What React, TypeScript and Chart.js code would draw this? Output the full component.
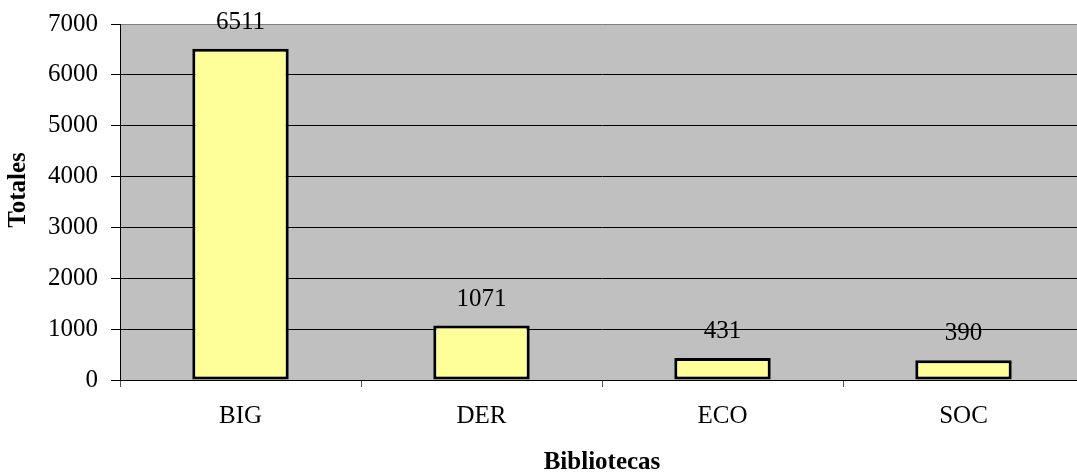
import React, { useEffect, useRef } from "react";
import { Chart, registerables } from "chart.js";

Chart.register(...registerables);

const categories: string[] = ["BIG", "DER", "ECO", "SOC"];
const totales: number[] = [6511, 1071, 431, 390];
const yTicks: number[] = [0, 1000, 2000, 3000, 4000, 5000, 6000, 7000];
const xTitle = "Bibliotecas";
const yTitle = "Totales";

const FONT = "'Liberation Serif', 'Times New Roman', serif";

const bgPlugin = {
  id: "plotBg",
  beforeDraw(chart: any) {
    const { ctx, chartArea } = chart;
    ctx.save();
    ctx.fillStyle = "#C0C0C0";
    ctx.fillRect(chartArea.left, chartArea.top, chartArea.right - chartArea.left, chartArea.bottom - chartArea.top);
    ctx.restore();
  },
};

const labelPlugin = {
  id: "valueLabels",
  afterDatasetsDraw(chart: any) {
    const { ctx } = chart;
    const meta = chart.getDatasetMeta(0);
    ctx.save();
    ctx.fillStyle = "#000";
    ctx.font = `25px ${FONT}`;
    ctx.textAlign = "center";
    ctx.textBaseline = "alphabetic";
    meta.data.forEach((bar: any, i: number) => {
      ctx.fillText(String(totales[i]), bar.x, bar.y - 20);
    });
    ctx.restore();
  },
};

const yTitlePlugin = {
  id: "yTitle",
  afterDraw(chart: any) {
    const { ctx, chartArea } = chart;
    ctx.save();
    ctx.fillStyle = "#000";
    ctx.font = `bold 25px ${FONT}`;
    ctx.textAlign = "center";
    ctx.textBaseline = "middle";
    ctx.translate(19, (chartArea.top + chartArea.bottom) / 2 - 12);
    ctx.rotate(-Math.PI / 2);
    ctx.fillText(yTitle, 0, 0);
    ctx.restore();
  },
};

export default function App() {
  const ref = useRef<HTMLCanvasElement | null>(null);

  useEffect(() => {
    if (!ref.current) return;
    const chart = new Chart(ref.current, {
      type: "bar",
      data: {
        labels: categories,
        datasets: [
          {
            data: totales,
            backgroundColor: "#FFFF99",
            borderColor: "#000",
            borderWidth: 3,
            borderSkipped: false,
            categoryPercentage: 1,
            barPercentage: 0.4,
          },
        ],
      },
      plugins: [bgPlugin, labelPlugin, yTitlePlugin],
      options: {
        animation: false,
        responsive: true,
        maintainAspectRatio: false,
        layout: { padding: { top: 24, left: 0, right: 0, bottom: 0 } },
        plugins: { legend: { display: false }, tooltip: { enabled: false }, title: { display: false } },
        scales: {
          x: {
            offset: true,
            afterFit(scale: any) {
              scale.height = 95;
            },
            grid: {
              display: true,
              offset: true,
              drawOnChartArea: false,
              drawTicks: true,
              tickLength: 7,
              color: "#555",
            },
            border: { display: true, color: "#000", width: 1 },
            ticks: { color: "#000", font: { family: FONT, size: 25 }, padding: 14 },
            title: {
              display: true,
              text: xTitle,
              color: "#000",
              font: { family: FONT, size: 25, weight: "bold", lineHeight: 1 },
              padding: 0,
            },
          },
          y: {
            min: 0,
            max: 7000,
            afterFit(scale: any) {
              scale.width = 120;
              scale.paddingTop = 0;
              scale.paddingBottom = 0;
            },
            afterBuildTicks(scale: any) {
              scale.ticks = yTicks.map((v) => ({ value: v }));
            },
            grid: {
              color: (c: any) => (c.tick && c.tick.value === 7000 ? "#808080" : "#000"),
              tickColor: "#000",
              tickLength: 9,
              lineWidth: 1,
            },
            border: { display: true, color: "#000", width: 1 },
            ticks: {
              color: "#000",
              font: { family: FONT, size: 25 },
              padding: 13,
              callback: (v: any) => String(v),
            },
          },
        },
      },
    });
    return () => chart.destroy();
  }, []);

  return (
    <div style={{ position: "fixed", left: 0, top: 0, width: 1077, height: 475, overflow: "hidden", background: "#fff" }}>
      <div style={{ position: "relative", width: 1084, height: 475 }}>
        <canvas ref={ref} />
      </div>
    </div>
  );
}
